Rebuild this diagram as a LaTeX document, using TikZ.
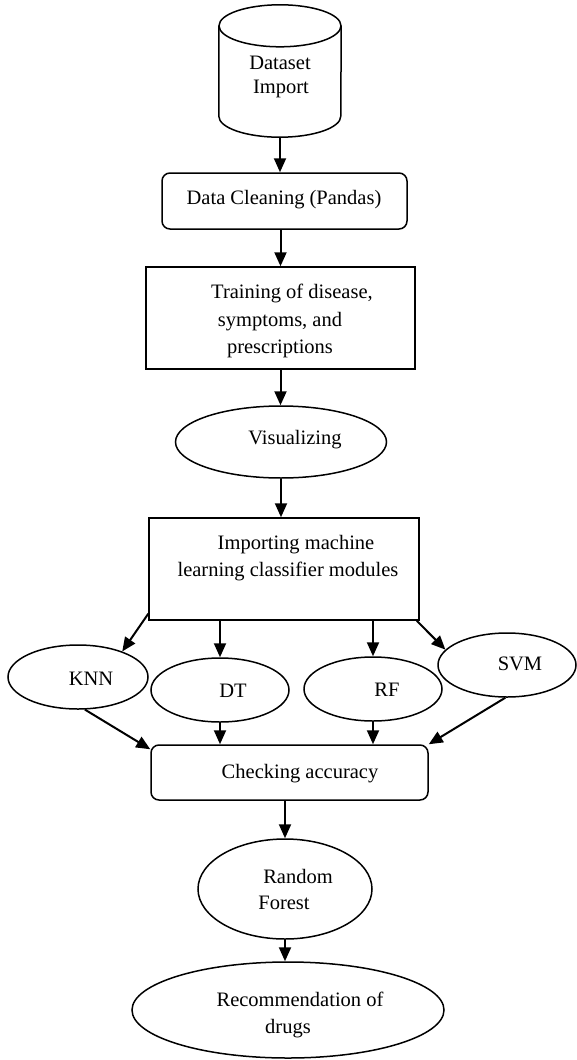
\documentclass[tikz,border=0pt]{standalone}
\usepackage{fontspec}
\setmainfont{Liberation Serif}
\usetikzlibrary{arrows.meta,shapes.geometric}
\begin{document}
\begin{tikzpicture}[x=1pt,y=-1pt,
  outline/.style={draw=black, line width=1.5pt, inner sep=0pt},
  box/.style={outline, rectangle},
  roundbox/.style={outline, rectangle, rounded corners=8pt},
  oval/.style={outline, ellipse},
  txt/.style={font=\fontsize{20.5}{27}\selectfont, inner sep=0pt, anchor=base},
  arr/.style={line width=2pt, -{Triangle[length=14pt,width=12pt]}}
]
\useasboundingbox (0,0) rectangle (576,1060);

% dataset cylinder
\node[inner sep=0pt, minimum width=122pt, minimum height=132pt] (cyl) at (280,71) {};
\draw[line width=1.5pt] ([yshift=-21pt]cyl.north) ellipse [x radius=61pt, y radius=21pt];
\draw[line width=1.5pt] ([yshift=-21pt]cyl.north west) -- ([yshift=21pt]cyl.south west)
  arc[start angle=180, end angle=360, x radius=61pt, y radius=21pt] -- ([yshift=-21pt]cyl.north east);
\node[txt] (tDataset) at (280,69) {Dataset};
\node[txt] (tImport) at (281,93) {Import};

% pipeline shapes
\node[roundbox, minimum width=245pt, minimum height=56pt] (clean) at (284.5,201) {};
\node[box, minimum width=269pt, minimum height=102pt] (train) at (280.5,318) {};
\node[oval, minimum width=211pt, minimum height=72pt] (vis) at (281,442) {};
\node[box, minimum width=270pt, minimum height=102pt] (imp) at (284,569) {};
\node[oval, minimum width=140pt, minimum height=64pt] (knn) at (78,677) {};
\node[oval, minimum width=138pt, minimum height=64pt] (dt) at (220,690) {};
\node[oval, minimum width=138pt, minimum height=64pt] (rf) at (373,689) {};
\node[oval, minimum width=138pt, minimum height=64pt] (svm) at (507,665) {};
\node[roundbox, minimum width=277pt, minimum height=55pt] (check) at (289.5,772.5) {};
\node[oval, minimum width=174pt, minimum height=100pt] (rforest) at (285,889) {};
\node[oval, minimum width=312pt, minimum height=96pt] (rec) at (288,1010) {};

% labels
\node[txt] (tClean) at (284,204) {Data Cleaning (Pandas)};
\node[txt] (tTrainA) at (292,298) {Training of disease,};
\node[txt] (tTrainB) at (280,326) {symptoms, and};
\node[txt] (tTrainC) at (280,353) {prescriptions};
\node[txt] (tVis) at (295,444) {Visualizing};
\node[txt] (tImpA) at (296,549) {Importing machine};
\node[txt] (tImpB) at (288,576) {learning classifier modules};
\node[txt] (tKnn) at (91,685) {KNN};
\node[txt] (tDt) at (233,697) {DT};
\node[txt] (tRf) at (387,696) {RF};
\node[txt] (tSvm) at (520,670) {SVM};
\node[txt] (tCheck) at (300,778) {Checking accuracy};
\node[txt] (tRandom) at (298,883) {Random};
\node[txt] (tForest) at (284,909) {Forest};
\node[txt] (tRecA) at (300,1006) {Recommendation of};
\node[txt] (tRecB) at (288,1033) {drugs};

% connectors
\draw[arr] (cyl.south) -- (cyl.south |- clean.north);
\draw[arr] (train.north |- clean.south) -- (train.north);
\draw[arr] (train.south) -- (train.south |- vis.north);
\draw[arr] (vis.south) -- (vis.south |- imp.north);
\draw[arr] ([yshift=7pt]imp.south west) -- (knn.30);
\draw[arr] (dt.north |- imp.south) -- (dt.north);
\draw[arr] (rf.north |- imp.south) -- (rf.north);
\draw[arr] ([xshift=-3pt]imp.south east) -- (svm.166);
\draw[arr] (knn.-78) -- ([yshift=-5pt]check.north west);
\draw[arr] (dt.south) -- (dt.south |- check.north);
\draw[arr] (rf.south) -- (rf.south |- check.north);
\draw[arr] (svm.-93) -- (check.north east);
\draw[arr] (rforest.north |- check.south) -- (rforest.north);
\draw[arr] (rforest.south) -- (rforest.south |- rec.north);
\end{tikzpicture}
\end{document}
